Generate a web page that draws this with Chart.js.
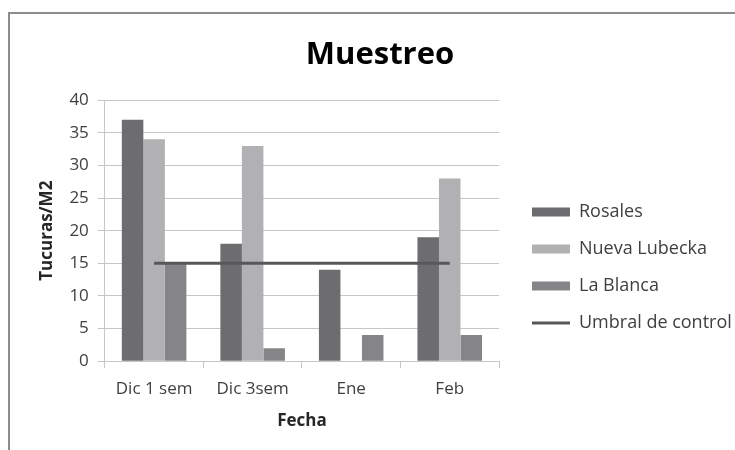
<!DOCTYPE html>
<html>
<head>
<meta charset="utf-8">
<script src="https://cdn.jsdelivr.net/npm/chart.js@4"></script>
<style>
html,body{margin:0;padding:0;background:#fff;width:735px;height:450px;overflow:hidden;}
#frame{position:absolute;left:8px;top:12px;width:740px;height:450px;border-left:2px solid #8c8c8c;border-top:2px solid #8c8c8c;box-sizing:border-box;}
#wrap{position:absolute;left:0;top:0;width:735px;height:450px;}
</style>
</head>
<body>
<div id="frame"></div>
<div id="wrap"><canvas id="c" width="735" height="450"></canvas></div>
<script>
const categories = ['Dic 1 sem', 'Dic 3sem', 'Ene', 'Feb'];
const rosales = [37, 18, 14, 19];
const nuevaLubecka = [34, 33, 0, 28];
const laBlanca = [15, 2, 4, 4];
const umbral = [15, 15, 15, 15];
const seriesNames = ['Rosales', 'Nueva Lubecka', 'La Blanca', 'Umbral de control'];
const yTicks = [0, 5, 10, 15, 20, 25, 30, 35, 40];

const FONT = '"Open Sans", Lato, sans-serif';
const colors = ['#6d6d6f', '#b1b1b3', '#858588', '#58585a'];

new Chart(document.getElementById('c'), {
  data: {
    labels: categories,
    datasets: [
      {type: 'bar', label: seriesNames[0], data: rosales, backgroundColor: colors[0], borderWidth: 0, categoryPercentage: 0.655, barPercentage: 1, order: 1},
      {type: 'bar', label: seriesNames[1], data: nuevaLubecka, backgroundColor: colors[1], borderWidth: 0, categoryPercentage: 0.655, barPercentage: 1, order: 1},
      {type: 'bar', label: seriesNames[2], data: laBlanca, backgroundColor: colors[2], borderWidth: 0, categoryPercentage: 0.655, barPercentage: 1, order: 1},
      {type: 'line', label: seriesNames[3], data: umbral, borderColor: colors[3], backgroundColor: colors[3], borderWidth: 3, pointRadius: 0, fill: false, order: -1}
    ]
  },
  options: {
    responsive: false,
    animation: false,
    devicePixelRatio: 1,
    layout: {padding: {left: 25, right: 0, top: 0, bottom: 9}},
    plugins: {
      tooltip: {enabled: false},
      title: {
        display: true, text: 'Muestreo', color: '#000',
        font: {family: FONT, size: 31, weight: 'bold'},
        padding: {top: 37, bottom: 26}
      },
      legend: {
        position: 'right',
        maxWidth: 222,
        title: {display: true, text: ' ', font: {family: FONT, size: 10}, padding: {top: 0, bottom: 82}},
        labels: {
          usePointStyle: true,
          pointStyleWidth: 38,
          boxHeight: 9,
          padding: 19,
          color: '#404040',
          font: {family: FONT, size: 18},
          generateLabels: (chart) => chart.data.datasets.map((ds, i) => ({
            text: ds.label,
            fillStyle: ds.type === 'line' ? ds.borderColor : ds.backgroundColor,
            strokeStyle: ds.type === 'line' ? ds.borderColor : ds.backgroundColor,
            lineWidth: ds.type === 'line' ? 3 : 0,
            pointStyle: ds.type === 'line' ? 'line' : 'rect',
            fontColor: '#404040',
            hidden: false,
            datasetIndex: i
          }))
        }
      }
    },
    scales: {
      x: {
        offset: true,
        grid: {display: true, offset: true, drawOnChartArea: false, drawTicks: true, tickLength: 7, color: '#c6c6c6'},
        border: {display: true, color: '#c6c6c6', width: 1},
        ticks: {color: '#404040', font: {family: FONT, size: 17}, padding: 11, maxRotation: 0},
        title: {display: true, text: 'Fecha', color: '#262626', font: {family: FONT, size: 17, weight: 'bold'}, padding: {top: 0, bottom: 10}}
      },
      y: {
        min: 0, max: 40,
        afterBuildTicks: (scale) => { scale.ticks = yTicks.map(v => ({value: v})); },
        grid: {color: '#c6c6c6', tickLength: 7, drawTicks: true},
        border: {display: true, color: '#c6c6c6', width: 1},
        ticks: {color: '#404040', font: {family: FONT, size: 17}, padding: 9},
        title: {display: true, text: 'Tucuras/M2', color: '#262626', font: {family: FONT, size: 17, weight: 'bold'}, padding: {top: 12, bottom: 3}}
      },
      ySpacer: {
        position: 'right',
        display: true,
        grid: {display: false, drawTicks: false},
        border: {display: false},
        ticks: {display: false},
        afterFit: (scale) => { scale.width = 14; }
      }
    }
  }
});
</script>
</body>
</html>
